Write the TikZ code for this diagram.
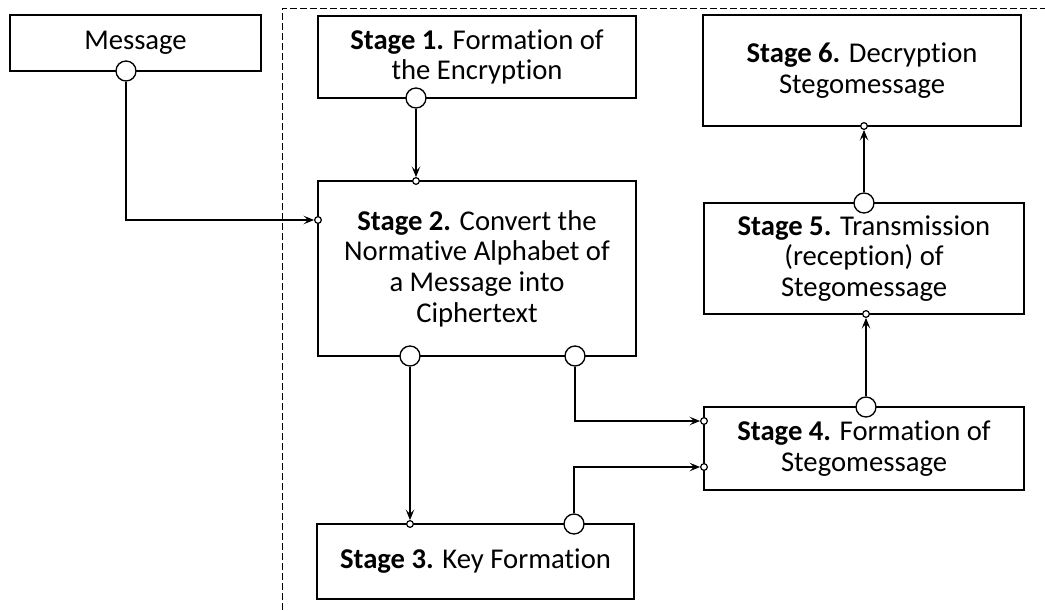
\documentclass[tikz,border=0pt]{standalone}
\usepackage{fontspec}
\setmainfont[Ligatures=NoCommon]{Carlito}
\usetikzlibrary{arrows.meta}

\tikzset{
  stagebox/.style={draw, line width=1.3pt, align=center, inner sep=0pt,
    font=\fontsize{21.5}{23}\selectfont},
  bigport/.style={draw, circle, fill=white, line width=1pt, inner sep=0pt, minimum size=15pt},
  smallport/.style={draw, circle, fill=white, line width=0.9pt, inner sep=0pt, minimum size=5pt},
  link/.style={line width=0.8pt, -{Stealth[length=8pt, width=6.5pt, inset=3.5pt]}},
}

\begin{document}
\begin{tikzpicture}[x=0.75pt, y=-0.75pt]
  \useasboundingbox (0,0) rectangle (1045,610);

  % boundary of the stages
  \draw [dashed, line width=0.7pt, dash pattern=on 5pt off 2.5pt] (282,610) -- (282,8) -- (1045,8);

  % boxes
  \node [stagebox, minimum width=188.25pt, minimum height=42pt] (msg) at (135.5,43) {Message};
  \node [stagebox, minimum width=238.5pt, minimum height=61.5pt] (s1) at (477,57)
    {\textbf{Stage 1.} Formation of\\the Encryption};
  \node [stagebox, minimum width=238.5pt, minimum height=131.25pt] (s2) at (477,268.5)
    {\textbf{Stage 2.} Convert the\\Normative Alphabet of\\a Message into\\Ciphertext};
  \node [stagebox, minimum width=237.75pt, minimum height=56.25pt] (s3) at (475.5,561.5)
    {\textbf{Stage 3.} Key Formation};
  \node [stagebox, minimum width=240pt, minimum height=62.25pt] (s4) at (864,448.5)
    {\textbf{Stage 4.} Formation of\\Stegomessage};
  \node [stagebox, minimum width=240pt, minimum height=83.25pt] (s5) at (864,258.5)
    {\textbf{Stage 5.} Transmission\\(reception) of\\Stegomessage};
  \node [stagebox, minimum width=238.5pt, minimum height=83.25pt] (s6) at (862,70.5)
    {\textbf{Stage 6.} Decryption\\Stegomessage};

  % ports
  \node [bigport] (msg-out) at (126,71) {};
  \node [bigport] (s1-out) at (416,98) {};
  \node [smallport] (s2-in1) at (416,181) {};
  \node [smallport] (s2-in2) at (318,220) {};
  \node [bigport] (s2-out1) at (410,356) {};
  \node [bigport] (s2-out2) at (575,356) {};
  \node [smallport] (s3-in) at (410,524) {};
  \node [bigport] (s3-out) at (574,524) {};
  \node [smallport] (s4-in1) at (704,421) {};
  \node [smallport] (s4-in2) at (704,467) {};
  \node [bigport] (s4-out) at (866,407) {};
  \node [smallport] (s5-in) at (866,314) {};
  \node [bigport] (s5-out) at (864,203) {};
  \node [smallport] (s6-in) at (864,126) {};

  % connectors
  \draw [link] (msg-out) |- (s2-in2);
  \draw [link] (s1-out) -- (s2-in1);
  \draw [link] (s2-out1) -- (s3-in);
  \draw [link] (s2-out2) |- (s4-in1);
  \draw [link] (s3-out) |- (s4-in2);
  \draw [link] (s4-out) -- (s5-in);
  \draw [link] (s5-out) -- (s6-in);

\end{tikzpicture}
\end{document}
